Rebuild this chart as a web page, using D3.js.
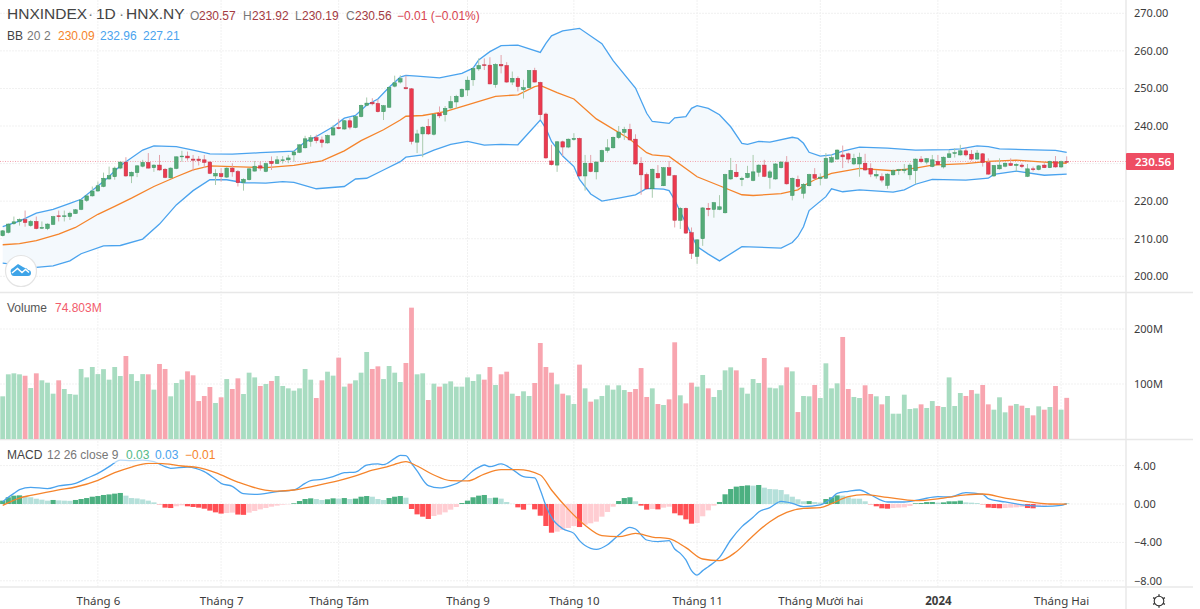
<!DOCTYPE html>
<html>
<head>
<meta charset="utf-8">
<script src="https://cdn.jsdelivr.net/npm/d3@7"></script>
<style>
  html, body { margin: 0; padding: 0; background: #fff; }
  svg { display: block; }
  text { font-family: "Liberation Sans", Arial, sans-serif; }
  .axis text { font-family: "Noto Sans", sans-serif; font-size: 11px; fill: #3c3c3c; }
  .axis path { display: none; }
  .time text { font-size: 11.5px; }
</style>
</head>
<body>
<script>
"use strict";

const width = 1200;
const height = 609;

// [open, high, low, close], one row per session
const ohlc = [
[210.8,212.3,210.6,212.1],[211.7,214.1,211.4,213.9],[214.0,215.9,213.7,214.5],[214.6,215.4,213.5,215.1],[215.1,217.5,213.2,214.3],
[213.5,215.0,213.2,214.6],[214.6,215.9,212.5,212.7],[212.8,214.6,212.6,213.0],[212.7,214.1,212.3,213.9],[213.8,216.1,213.7,215.9],
[216.1,217.5,214.6,215.9],[215.9,217.5,214.6,216.1],[215.9,217.2,215.0,216.8],[216.7,217.9,216.6,217.7],[217.8,220.5,217.6,220.3],
[220.2,221.7,219.8,221.4],[221.4,223.9,221.2,222.7],[222.7,225.2,222.5,224.1],[223.9,227.6,223.7,226.1],[225.9,229.2,225.7,226.8],
[226.5,229.2,225.7,228.8],[228.8,230.5,228.5,230.4],[230.4,231.7,226.5,226.7],[226.7,227.9,224.8,227.7],[227.6,229.6,226.4,229.4],
[229.3,231.0,229.0,230.3],[230.3,232.8,228.7,228.8],[228.9,229.8,227.8,229.6],[229.6,232.3,228.1,228.3],[228.5,228.8,226.1,226.3],
[226.2,229.0,226.0,228.8],[228.7,231.9,228.5,231.8],[231.9,233.4,230.5,232.0],[232.0,233.2,230.8,231.5],[231.2,232.3,228.0,230.9],
[231.2,232.0,229.5,230.8],[231.0,232.3,228.8,230.3],[230.4,230.7,227.2,227.4],[226.7,228.5,224.3,227.4],[227.3,228.8,225.2,226.5],
[226.4,229.0,226.2,228.8],[228.8,230.1,226.5,227.8],[227.9,228.3,223.9,224.9],[225.0,226.1,222.8,225.8],[225.7,228.8,225.5,228.6],
[228.0,230.7,227.9,229.3],[229.4,230.5,228.1,228.8],[227.9,230.3,227.7,230.0],[230.6,231.9,228.3,230.0],[230.0,232.0,229.9,231.0],
[230.8,232.0,230.0,231.0],[231.0,232.3,230.1,231.5],[232.3,233.4,230.5,233.1],[233.0,235.1,232.8,235.0],[234.2,237.4,234.0,236.6],
[235.9,237.6,234.5,236.9],[236.9,237.7,235.4,236.1],[236.3,237.2,234.3,235.6],[235.5,237.7,235.3,237.5],[237.6,240.3,237.4,239.5],
[239.6,241.9,239.1,239.3],[239.2,241.6,239.0,241.4],[241.4,242.1,239.1,239.7],[239.6,242.7,239.4,242.5],[242.5,245.7,242.3,245.5],
[245.5,247.6,245.3,246.1],[246.3,247.4,245.5,245.9],[246.0,247.1,243.6,243.8],[243.8,245.6,241.6,245.4],[245.0,250.5,244.8,250.3],
[250.6,253.4,250.3,251.5],[251.7,253.5,251.3,252.6],[250.2,253.4,249.8,249.9],[249.9,250.1,235.1,235.9],[235.7,239.0,232.8,237.9],
[237.9,239.9,231.7,239.7],[239.9,241.9,237.6,237.9],[237.8,243.3,237.5,243.1],[243.4,245.2,242.1,242.7],[243.0,245.3,241.2,244.7],
[244.8,248.0,244.6,246.5],[246.4,248.3,244.7,247.9],[247.8,250.0,247.6,249.8],[249.6,253.2,248.0,252.2],[252.3,255.6,250.7,255.3],
[255.2,258.0,254.7,256.1],[256.3,258.0,254.9,256.1],[256.2,258.3,251.1,251.2],[251.0,256.7,250.2,256.4],[256.4,258.9,254.0,256.0],
[256.1,257.0,251.5,251.7],[251.7,254.5,250.9,252.7],[252.7,253.2,249.2,250.5],[249.7,252.3,247.3,250.2],[250.2,254.9,250.0,254.8],
[254.8,255.5,251.6,251.7],[251.6,251.8,241.6,243.0],[243.2,243.6,231.3,231.5],[230.7,235.0,229.5,229.7],[229.6,236.0,227.8,235.8],
[235.8,236.1,232.0,234.4],[234.4,236.7,234.1,236.5],[236.4,238.1,236.1,236.7],[236.7,236.9,226.5,226.7],[226.7,232.3,222.8,230.1],
[230.1,232.3,227.7,227.9],[227.8,230.6,225.8,230.4],[230.5,233.7,230.3,233.5],[233.5,236.5,232.9,234.2],[234.2,237.2,234.0,237.0],
[236.9,240.0,236.5,238.4],[238.3,239.8,236.3,239.1],[239.1,240.6,236.1,236.3],[236.5,237.8,229.7,229.9],[230.1,231.7,221.7,227.0],
[227.1,227.6,223.0,223.3],[223.3,228.7,220.9,228.5],[227.4,229.6,226.0,226.2],[224.1,229.1,224.0,228.9],[228.9,230.7,226.7,226.9],
[226.8,227.0,213.0,214.9],[214.9,218.4,212.6,218.1],[218.1,218.3,211.3,211.5],[211.6,213.0,204.6,206.1],[205.3,209.9,203.3,209.7],
[210.0,218.4,208.1,218.2],[218.1,219.5,216.0,217.8],[217.8,219.8,215.6,219.6],[217.8,221.6,217.6,218.5],[216.9,227.3,216.7,227.1],
[225.9,231.5,225.7,228.2],[227.7,229.9,226.3,226.5],[225.7,226.5,224.0,226.1],[226.3,229.4,226.1,227.4],[225.5,232.3,225.3,227.8],
[227.7,229.8,226.5,229.6],[229.6,231.0,226.4,226.6],[226.3,228.3,223.3,227.8],[225.9,230.1,225.7,229.9],[228.9,230.6,228.7,230.4],
[230.3,232.0,224.4,224.6],[221.5,226.3,220.2,226.1],[225.8,226.8,223.4,223.9],[222.1,224.8,220.7,224.5],[224.1,227.3,223.9,227.1],
[227.1,228.8,225.7,226.1],[226.0,227.4,224.2,226.4],[226.1,232.8,225.9,231.4],[230.4,232.5,230.2,231.6],[231.2,233.8,231.0,233.6],
[232.3,234.8,228.8,231.8],[232.6,232.9,230.1,231.2],[229.9,232.6,229.6,231.4],[229.9,232.9,226.5,231.7],[230.1,232.6,228.1,228.3],
[228.7,230.1,226.4,227.2],[226.7,228.3,226.0,227.1],[226.5,227.4,225.0,225.6],[224.2,227.4,223.3,227.2],[227.0,228.5,226.8,228.1],
[228.1,228.6,227.0,228.4],[228.1,229.9,227.4,228.4],[227.0,230.1,225.7,229.6],[228.1,231.4,224.6,231.2],[231.2,232.0,230.1,230.5],
[230.4,231.5,229.8,231.3],[229.2,232.3,229.0,231.0],[230.6,232.3,229.6,229.7],[229.1,231.9,228.7,231.7],[231.6,233.6,231.5,232.6],
[232.7,234.1,231.6,232.9],[232.3,235.0,232.1,233.4],[233.4,234.3,231.9,232.3],[232.5,233.6,230.8,231.2],[231.2,233.6,231.0,232.8],
[232.6,232.8,229.2,230.3],[230.3,231.4,227.0,227.2],[226.7,229.6,226.5,229.5],[228.6,231.4,228.4,229.6],[229.3,230.3,229.0,230.1],
[230.0,231.4,229.4,229.5],[229.5,230.1,227.9,229.8],[229.6,230.1,228.8,229.2],[226.6,229.9,226.4,228.6],[228.6,229.2,227.9,228.4],
[228.4,229.6,228.2,229.4],[229.6,230.1,228.8,228.9],[228.9,230.8,228.8,230.6],[230.5,232.0,228.9,229.1],[229.1,230.8,228.8,230.5],
[230.57,231.92,230.19,230.56]
];

// volume, millions
const volumes = [
77.6,117.6,119.4,117.6,115,92.7,119.4,106.7,102.4,82.4,
106.7,90.9,81.8,80.6,127.3,112,130.9,118,127,107.9,
130.9,114.5,150.9,118,105.5,118,117.6,89.7,136.4,127.3,
77.6,101.8,107.9,123,115.8,69,78.2,94.5,65.5,75.8,
109,90.9,110.3,81.8,120.6,112,96.4,100,105.5,114.5,
96.4,92.1,87.9,92.1,127.3,107.9,74.5,106.7,122.4,115.2,
147.9,95.2,100.6,106.7,120.6,158.2,127.3,132.1,109,132.7,
120.6,103.6,138.2,238.8,117.6,119.4,70.9,100.6,95.2,100.6,
104.8,95.2,95.2,112,105.5,117.6,107.9,130.9,98.2,117.6,
122.4,82.4,78.2,86.7,78.2,101.8,174.5,130.9,120.6,99.4,
82.4,79.4,63.6,135.2,92.1,67.9,72.1,78.2,97.6,89.7,
97.6,89,85.5,90.9,129,76.4,92.1,63.6,61.8,72.1,
175.8,79.4,64.8,102.4,95.2,116.4,92.1,76.4,89,124.8,
130.3,124.8,93.3,82.4,109,101.8,147.3,93.3,92.1,97.6,
130.3,123,49,78.2,77.6,98.2,74.5,137.6,92.1,101.2,
185.5,90.9,76.4,74.5,97.6,81.8,77.6,63,78.2,46,
46,80.6,54.5,55.8,63,56.4,69,60,58.2,112,
60,83.6,78.2,89,82.4,98.2,63,53.3,75.8,48.5,
60.6,63.6,60.6,56.4,43,59.4,53.3,58.2,96.4,53.3,
74.8
];

// MACD histogram
const histogram = [
.35,.7,.87,.9,.8,.7,.55,.45,.35,.42,
.38,.35,.33,.42,.52,.62,.76,.83,.94,1,
1.08,1.15,.87,.62,.58,.48,.35,.17,-.03,-.38,
-.42,-.24,-.14,-.24,-.31,-.38,-.49,-.69,-.87,-1,
-.94,-.9,-1.1,-1.13,-.9,-.73,-.56,-.42,-.28,-.17,
-.07,-.03,.07,.31,.52,.59,.52,.42,.49,.59,
.56,.62,.52,.56,.76,.83,.76,.52,.42,.62,
.76,.83,.66,-.52,-1.08,-1.32,-1.56,-1.25,-1.11,-.87,
-.59,-.31,.1,.35,.7,.87,.94,.62,.66,.56,
.21,.01,-.35,-.59,-.07,-.56,-1.22,-2.29,-2.99,-2.88,
-2.71,-2.5,-2.29,-2.4,-2.15,-2.01,-1.84,-1.32,-.83,-.28,
.31,.62,.7,.28,-.17,-.59,-.52,-.56,-.38,-.28,
-.97,-1.18,-1.6,-2.05,-1.98,-1.28,-.66,-.17,.21,1.01,
1.56,1.81,1.88,1.94,1.91,1.98,1.7,1.56,1.53,1.46,
1.01,.76,.49,.28,.3,.21,.15,.52,.7,.9,
.87,.7,.56,.55,.28,-.03,-.24,-.45,-.49,-.42,
-.38,-.35,-.2,.07,.1,.2,.21,.14,.17,.28,
.28,.35,.17,.14,.1,-.03,-.38,-.42,-.45,-.42,
-.38,-.35,-.3,-.42,-.45,-.2,-.17,-.1,-.07,-.03,
.03
];

// the lines, read as [session, value] at the turns
const bbUpper = [
[0,213.2],[3,214.7],[6,216.8],[9,217.8],[12,219.4],[14,220.5],[18,225.2],[21,229.4],[22,230.5],[25,233.6],[27,234.7],[31,234.5],[34,233.6],[37,232.6],[41,232.5],[46,232.9],[52,233.3],[54,235.8],[56,237.2],[59,239.8],[61,242.1],[63,242.8],[65,245.6],[67,247.2],[69,250.3],[71,253],
[72,253.5],[74,253.3],[78,252.8],[82,254],[84,255.4],[85,257.6],[87,259.8],[89,261.4],[92,261.5],[96,259.6],[97,262],[98,264],[100,265.3],[103,266],[107,261.9],[109,257.4],[113,250.1],[115,243.4],[116,241.2],[119,240.7],[120,242.2],[122,242.5],[123,244.7],[124,245.4],[126,244.7],[128,243],[130,239.8],[132,235.4],[133,235.1],[135,235.9],[137,235.7],[141,237],[142,236.7],
[143,235.4],[144,233],[146,232],[148,232.3],[150,233.3],[153,234.4],[158,234.1],[163,233.6],[169,233.7],[171,233.9],[174,234.7],[176,234.5],[178,233.9],[186,233.6],[188,233.5],[190,232.96]
];
const bbMiddle = [
[0,208.4],[3,208.7],[6,209.5],[10,211.2],[13,213],[17,216.5],[20,218.6],[23,220.8],[27,223.9],[31,226.5],[34,228.3],[37,229.4],[41,229.2],[47,228.9],[52,229.5],[57,230.7],[61,233.4],[64,236.1],[68,239],[71,241.6],
[72,242.6],[75,242.8],[79,243.8],[83,245.6],[88,247.9],[92,248.3],[95,250.5],[96,250.8],[99,248.9],[102,247.2],[106,241.9],[112,236.5],[115,232.9],[116,232.3],[119,231.9],[124,226.5],[128,224.1],[132,221.7],[134,221.5],[139,222],[142,223],
[143,224.1],[145,225.7],[148,227.4],[153,228.7],[159,228.1],[163,228.8],[166,229.6],[172,230],[176,230.6],[181,230.9],[186,230.4],[190,230.09]
];
const bbLower = [
[0,203.5],[3,203],[6,202.4],[9,202.8],[12,204.1],[14,206],[18,208.1],[21,208.2],[25,209.9],[28,213.9],[31,219],[34,222.8],[37,225.7],[40,225.7],[43,224.9],[47,224.8],[50,225.2],[52,225],[56,223.3],[61,223.9],[63,225.9],[65,226.1],[68,228.3],[71,230.5],
[72,231.7],[75,232.3],[77,233.6],[80,235.1],[83,235.9],[86,234.9],[89,235.1],[92,235],[96,241.6],[97,239.4],[98,235.9],[100,232],[102,229.2],[103,225.8],[105,221.9],[107,220],[110,220.8],[113,221.7],[115,223.4],[118,223.2],[119,222.8],[120,220.3],[122,214.1],[124,207.9],[126,205.9],[128,204.1],[132,207.9],[139,207.5],[141,209],[142,210.6],
[143,213.2],[144,217.5],[147,221.2],[148,223.3],[150,222.5],[153,223],[159,222.4],[161,223],[163,224.5],[166,225.8],[172,225.6],[176,226.1],[177,227.1],[181,228],[186,226.9],[190,227.21]
];
const macdLine = [
[0,.24],[1,.7],[2,1.11],[3,1.49],[5,1.74],[8,1.6],[10,1.88],[13,2.15],[15,2.67],[17,3.19],[19,3.89],[21,4.58],[23,4.51],[25,4.58],[27,4.41],[29,3.89],[30,3.72],[33,3.85],[36,3.37],[38,2.57],[39,2.15],[41,1.84],[43,1.08],[45,1],[49,1.28],[52,1.46],[54,2.15],[55,2.43],[57,2.57],[59,2.85],[61,3.26],[63,3.33],[65,4.06],[67,4.17],[68,4.1],[70,4.76],
[71,5.07],[72,5.03],[73,4.24],[74,3.44],[76,1.91],[78,1.67],[80,1.91],[82,2.43],[84,3.47],[85,3.82],[86,4.06],[87,3.89],[89,4.17],[91,3.61],[93,2.85],[95,2.71],[96,1.46],[97,-.17],[98,-1.39],[100,-2.57],[102,-3.06],[103,-3.82],[105,-4.62],[106,-4.72],[108,-4.24],[110,-3.23],[112,-2.43],[113,-2.6],[115,-3.75],[117,-3.92],[119,-3.82],[120,-4.69],[121,-5.14],[122,-5.83],[123,-6.94],[124,-7.4],[125,-6.94],[126,-6.53],[128,-5.56],[130,-3.75],[132,-2.36],[134,-1.39],[135,-.83],[137,-.38],[139,.28],[141,.07],
[143,-.28],[146,-.1],[148,.59],[149,1.11],[151,1.32],[153,1.46],[155,.94],[158,.21],[161,.21],[164,.49],[167,.76],[169,.73],[172,1.18],[175,1.01],[176,.56],[179,.21],[183,-.14],[186,-.24],[189,-.14],[190,.03]
];
const macdSignal = [
[0,-.14],[3,.62],[5,.9],[10,1.46],[13,1.77],[17,2.47],[20,3.26],[23,3.85],[26,4.24],[28,4.24],[32,3.96],[35,3.78],[38,3.26],[42,2.29],[46,1.56],[49,1.35],[52,1.46],[56,1.91],[60,2.43],[63,2.92],[66,3.54],[68,3.78],[70,4.13],
[71,4.31],[72,4.41],[74,3.96],[77,3.02],[80,2.43],[83,2.4],[86,3.12],[89,3.58],[92,3.58],[96,3.02],[98,1.46],[101,-.56],[104,-2.22],[107,-3.3],[110,-3.4],[113,-3.06],[116,-3.44],[119,-3.61],[122,-4.55],[125,-5.73],[128,-5.9],[131,-4.97],[134,-3.3],[137,-1.84],[140,-.87],
[143,-.45],[146,-.38],[148,.03],[151,.76],[154,.97],[158,.69],[163,.35],[168,.62],[172,.94],[175,1.04],[179,.62],[184,.17],[187,0],[190,-.01]
];

const monthDays = [17, 39, 60, 83, 102, 124, 146, 167, 189];
const monthLabels = ["Tháng 6", "Tháng 7", "Tháng Tám", "Tháng 9", "Tháng 10", "Tháng 11", "Tháng Mười hai", "2024", "Tháng Hai"];
const priceGrid = [200, 210, 220, 230, 240, 250, 260, 270];
// 230.00 sits under the last price label, so it gets no tick text
const priceTicks = [200, 210, 220, 240, 250, 260, 270];
const volumeTicks = [100, 200];
const macdTicks = [-8, -4, 0, 4];
const lastPrice = 230.56;

const green = "#55ab78", greenEdge = "#3a9361", greenWick = "#a9cbae";
const red = "#eb3a4f", redEdge = "#bd3245", redWick = "#e2a3ab";
const blue = "#4aa3ee", orange = "#f5842b";
const gridColor = "#f1f1f1", sepColor = "#e8e8e8";
const scaleEdge = 1126;

let x = d3.scaleLinear().domain([0, 190]).range([2.7, 1066.7]);
let yPrice = d3.scaleLinear().domain([200, 270]).range([276.3, 13.3]);
let yVolume = d3.scaleLinear().domain([0, 200]).range([439, 329]);
let yMacd = d3.scaleLinear().domain([-8, 4]).range([580.8, 465.6]);

let svg = d3.select("body").append("svg")
    .attr("width", width)
    .attr("height", height);

// grid
let grid = svg.append("g")
    .attr("stroke", gridColor)
    .attr("stroke-dasharray", "2,1");

grid.selectAll(".vgrid").data(monthDays).enter().append("line")
    .attr("x1", d => x(d)).attr("x2", d => x(d))
    .attr("y1", 0).attr("y2", 587);

function hgrid(ticks, scale) {
    grid.selectAll(null).data(ticks).enter().append("line")
        .attr("x1", 0).attr("x2", scaleEdge)
        .attr("y1", d => scale(d)).attr("y2", d => scale(d));
}
hgrid(priceGrid, yPrice);
hgrid(volumeTicks, yVolume);
hgrid(macdTicks, yMacd);

// separators
svg.selectAll(".sep").data([292.5, 439.5, 587]).enter().append("line")
    .attr("x1", 0).attr("x2", 1193)
    .attr("y1", d => d).attr("y2", d => d)
    .attr("stroke", sepColor).attr("stroke-width", 1.5);
svg.append("line")
    .attr("x1", scaleEdge).attr("x2", scaleEdge)
    .attr("y1", 0).attr("y2", height)
    .attr("stroke", sepColor).attr("stroke-width", 1.5);

// bollinger band
let bbLine = d3.line().x(d => x(d[0])).y(d => yPrice(d[1]));

svg.append("path")
    .attr("d", bbLine(bbUpper) + "L" + bbLine(bbLower.slice().reverse()).slice(1) + "Z")
    .attr("fill", "#f4f9fd");

// last price line
svg.append("line")
    .attr("x1", 0).attr("x2", scaleEdge)
    .attr("y1", yPrice(lastPrice)).attr("y2", yPrice(lastPrice))
    .attr("stroke", "#f2a3ae")
    .attr("stroke-dasharray", "1,1.5");

[[bbUpper, blue], [bbLower, blue], [bbMiddle, orange]].forEach(function(s) {
    svg.append("path")
        .attr("d", bbLine(s[0]))
        .attr("fill", "none")
        .attr("stroke", s[1])
        .attr("stroke-width", 1.3);
});

// candles
let candle = svg.selectAll(".candle").data(ohlc).enter().append("g")
    .attr("class", "candle");

candle.append("line")
    .attr("x1", (d, i) => x(i)).attr("x2", (d, i) => x(i))
    .attr("y1", d => yPrice(d[1])).attr("y2", d => yPrice(d[2]))
    .attr("stroke", d => d[3] < d[0] ? redWick : greenWick);

candle.append("rect")
    .attr("x", (d, i) => x(i) - 1.8)
    .attr("width", 3.6)
    .attr("y", d => yPrice(Math.max(d[0], d[3])))
    .attr("height", d => Math.max(0.8, Math.abs(yPrice(d[0]) - yPrice(d[3]))))
    .attr("fill", d => d[3] < d[0] ? red : green)
    .attr("stroke", d => d[3] < d[0] ? redEdge : greenEdge)
    .attr("stroke-width", 0.5);

// volume
svg.selectAll(".vol").data(volumes).enter().append("rect")
    .attr("x", (d, i) => x(i) - 2.4)
    .attr("width", 4.8)
    .attr("y", d => yVolume(d))
    .attr("height", d => yVolume(0) - yVolume(d))
    .attr("fill", (d, i) => ohlc[i][3] < ohlc[i][0] ? "#f8a5af" : "#a8dcc1");

// macd histogram: colour follows sign and direction
function histColor(d, i) {
    let prev = i > 0 ? histogram[i - 1] : 0;
    if (d >= 0) return d >= prev ? "#4cb081" : "#b5e0da";
    return d < prev ? "#ff4f54" : "#ffcdd2";
}

svg.selectAll(".hist").data(histogram).enter().append("rect")
    .attr("x", (d, i) => x(i) - 2.6)
    .attr("width", 5.2)
    .attr("y", d => Math.min(yMacd(d), yMacd(0)))
    .attr("height", d => Math.abs(yMacd(d) - yMacd(0)))
    .attr("fill", histColor);

let macdPath = d3.line()
    .x(d => x(d[0])).y(d => yMacd(d[1]))
    .curve(d3.curveMonotoneX);

[[macdLine, blue], [macdSignal, orange]].forEach(function(s) {
    svg.append("path")
        .attr("d", macdPath(s[0]))
        .attr("fill", "none")
        .attr("stroke", s[1])
        .attr("stroke-width", 1.3);
});

// axes
svg.append("g").attr("class", "axis")
    .attr("transform", "translate(1126,0)")
    .call(d3.axisRight(yPrice).tickValues(priceTicks).tickSize(0).tickPadding(8).tickFormat(d3.format(".2f")));

svg.append("g").attr("class", "axis")
    .attr("transform", "translate(1126,0)")
    .call(d3.axisRight(yVolume).tickValues(volumeTicks).tickSize(0).tickPadding(8).tickFormat(d => d + "M"));

svg.append("g").attr("class", "axis")
    .attr("transform", "translate(1126,0)")
    .call(d3.axisRight(yMacd).tickValues(macdTicks).tickSize(0).tickPadding(8)
        .tickFormat(d => d3.format(".2f")(d).replace("-", "\u2212")));

let timeAxis = svg.append("g").attr("class", "axis time")
    .attr("transform", "translate(0,594)")
    .call(d3.axisBottom(x).tickValues(monthDays).tickSize(0).tickPadding(3)
        .tickFormat((d, i) => monthLabels[i]));
timeAxis.selectAll("text").filter(d => d === 167).attr("font-weight", "bold");

// last price label
svg.append("rect")
    .attr("x", scaleEdge).attr("y", yPrice(lastPrice) - 8.5)
    .attr("width", 48).attr("height", 17).attr("rx", 1)
    .attr("fill", "#ee4d63");
svg.append("text")
    .attr("x", 1135).attr("y", yPrice(lastPrice) + 4.5)
    .attr("fill", "#fff")
    .style("font-family", "'Noto Sans', sans-serif")
    .attr("font-size", 11.5)
    .attr("font-weight", 600)
    .text("230.56");

// legends: x, baseline, text, colour, size
const legendItems = [
    [7, 19, "HNXINDEX", "#444", 15.5], [88, 19, "·", "#777", 15.5], [96, 19, "1D", "#444", 15.5], [119, 19, "·", "#777", 15.5], [126, 19, "HNX.NY", "#444", 15.5],
    [190, 19.5, "O", "#777", 12], [199, 19.5, "230.57", "#a33a42", 12],
    [243, 19.5, "H", "#777", 12], [252, 19.5, "231.92", "#a33a42", 12],
    [295, 19.5, "L", "#777", 12], [302, 19.5, "230.19", "#a33a42", 12],
    [346, 19.5, "C", "#777", 12], [355, 19.5, "230.56", "#a33a42", 12],
    [397, 19.5, "\u22120.01 (\u22120.01%)", "#d8434f", 12],
    [7, 40, "BB", "#444", 12], [27, 40, "20", "#777", 12], [44, 40, "2", "#777", 12],
    [58, 40, "230.09", orange, 12], [100, 40, "232.96", blue, 12], [143, 40, "227.21", blue, 12],
    [7, 312, "Volume", "#555", 12], [55, 312, "74.803M", "#f25c6c", 12],
    [7, 459, "MACD", "#444", 12], [47, 459, "12 26 close 9", "#777", 12],
    [126, 459, "0.03", "#53b987", 12], [155, 459, "0.03", blue, 12], [185, 459, "\u22120.01", orange, 12]
];

svg.append("rect")
    .attr("x", 4).attr("y", 447).attr("width", 212).attr("height", 16)
    .attr("fill", "#fff").attr("fill-opacity", 0.6);

svg.selectAll(".legend").data(legendItems).enter().append("text")
    .attr("x", d => d[0]).attr("y", d => d[1])
    .attr("fill", d => d[3])
    .attr("font-size", d => d[4])
    .text(d => d[2]);

// logo bottom left
svg.append("circle")
    .attr("cx", 21).attr("cy", 271).attr("r", 15.5)
    .attr("fill", "#fff").attr("stroke", "#e4e4e4").attr("stroke-width", 1.2);
svg.append("path")
    .attr("d", "M11 273a3.5 3.5 0 0 1 2-5l5-4 5 3 2 1a4 4 0 0 1 3 2 3 3 0 0 1 3 3 3 3 0 0 1-3 3H14a3.2 3.2 0 0 1-3-3z")
    .attr("fill", "#3ea4e8");
svg.append("path")
    .attr("d", "M12 273l5.5-4.5 4.5 4 3.5-3 3.5 3")
    .attr("fill", "none").attr("stroke", "#fff").attr("stroke-width", 1.5);

// settings icon bottom right
let gear = svg.append("g").attr("transform", "translate(1159,601)")
    .attr("stroke", "#333").attr("fill", "none");
gear.append("circle").attr("r", 4.8).attr("stroke-width", 1.1);
gear.selectAll("line").data(d3.range(6)).enter().append("line")
    .attr("x1", 0).attr("x2", 0).attr("y1", -4.8).attr("y2", -6.8)
    .attr("transform", d => "rotate(" + (d * 60) + ")")
    .attr("stroke-width", 1.3);
</script>
</body>
</html>
